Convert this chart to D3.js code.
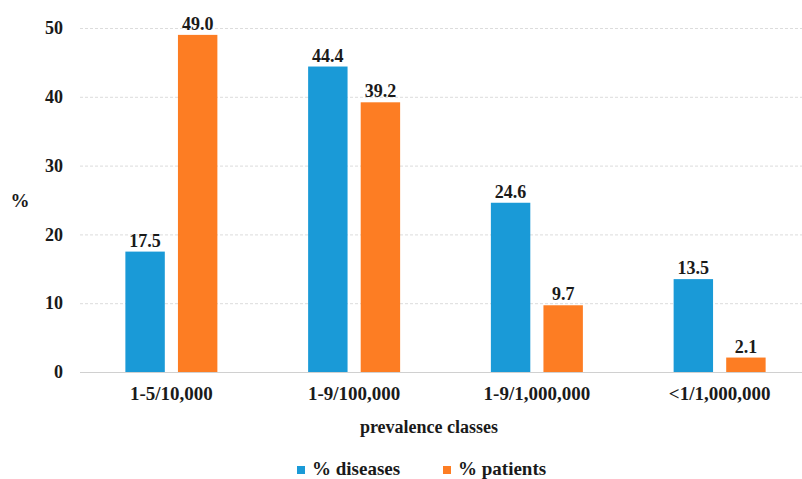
<html>
<head>
  <title>Prevalence classes</title>
  <meta charset="utf-8" />
  <style type="text/css">
    body { margin: 0; background: white; }
    svg { display: block; }
    text { font-family: "Liberation Serif", "Times New Roman", serif; font-weight: bold; fill: #1a1a1a; }
  </style>
  <script src="https://d3js.org/d3.v7.min.js" type="text/javascript"></script>
</head>

<body>
  <svg id="chart" width="802" height="479"></svg>

<script>
  var categories = ["1-5/10,000", "1-9/100,000", "1-9/1,000,000", "<1/1,000,000"]
  var seriesNames = ["% diseases", "% patients"]
  var diseases = [17.5, 44.4, 24.6, 13.5]
  var patients = [49.0, 39.2, 9.7, 2.1]
  var yTicks = [0, 10, 20, 30, 40, 50]
  var colors = ["#1a9ad7", "#fd7d23"]

  var svg = d3.select("#chart")

  var x = d3.scaleBand()
    .domain(categories)
    .range([80, 811])

  var inner = d3.scaleBand()
    .domain(seriesNames)
    .range([x.bandwidth() / 2 - 46, x.bandwidth() / 2 + 46])
    .paddingInner(0.25)

  var y = d3.scaleLinear()
    .domain([0, 50])
    .range([372, 28])

  // gridlines
  svg.append("g").selectAll("line")
    .data(yTicks)
    .enter()
    .append("line")
    .attr("x1", 80)
    .attr("x2", 802)
    .attr("y1", function (d) { return y(d) + 0.5 })
    .attr("y2", function (d) { return y(d) + 0.5 })
    .style("stroke", function (d) { return d == 0 ? "#d0d0d0" : "#dcdcdc" })
    .style("stroke-width", 1)
    .style("stroke-dasharray", function (d) { return d == 0 ? null : "3,2" })

  // y axis labels
  var yAxis = d3.axisLeft(y).tickValues(yTicks).tickSize(0).tickPadding(0)
  var gy = svg.append("g").attr("transform", "translate(63,0)").call(yAxis)
  gy.select(".domain").remove()
  gy.selectAll("text")
    .style("font-size", "18px")
    .style("font-family", "'Liberation Serif', serif")
    .style("fill", "#1a1a1a")

  svg.append("text")
    .attr("x", 20)
    .attr("y", 207)
    .attr("text-anchor", "middle")
    .style("font-size", "19px")
    .text("%")

  var rows = categories.map(function (c, i) {
    return { cat: c, values: [diseases[i], patients[i]] }
  })

  var groups = svg.selectAll("g.group")
    .data(rows)
    .enter()
    .append("g")
    .attr("class", "group")
    .attr("transform", function (d) { return "translate(" + x(d.cat) + ",0)" })

  groups.selectAll("rect")
    .data(function (d) { return d.values.map(function (v, j) { return { s: seriesNames[j], v: v, j: j } }) })
    .enter()
    .append("rect")
    .attr("x", function (d) { return inner(d.s) })
    .attr("y", function (d) { return y(d.v) })
    .attr("width", inner.bandwidth())
    .attr("height", function (d) { return y(0) - y(d.v) })
    .style("fill", function (d) { return colors[d.j] })

  groups.selectAll("text.val")
    .data(function (d) { return d.values.map(function (v, j) { return { s: seriesNames[j], v: v } }) })
    .enter()
    .append("text")
    .attr("class", "val")
    .attr("x", function (d) { return inner(d.s) + inner.bandwidth() / 2 })
    .attr("y", function (d) { return y(d.v) - 5 })
    .attr("text-anchor", "middle")
    .style("font-size", "18px")
    .text(function (d) { return d.v.toFixed(1) })

  // category labels
  groups.append("text")
    .attr("x", x.bandwidth() / 2)
    .attr("y", 400)
    .attr("text-anchor", "middle")
    .style("font-size", "19px")
    .text(function (d) { return d.cat })

  svg.append("text")
    .attr("x", 429)
    .attr("y", 433)
    .attr("text-anchor", "middle")
    .style("font-size", "18px")
    .text("prevalence classes")

  // legend
  var legendX = [297, 443]
  var legend = svg.selectAll("g.legend")
    .data(seriesNames)
    .enter()
    .append("g")
    .attr("class", "legend")
    .attr("transform", function (d, i) { return "translate(" + legendX[i] + ",0)" })

  legend.append("rect")
    .attr("x", 0)
    .attr("y", 466)
    .attr("width", 8)
    .attr("height", 8)
    .style("fill", function (d, i) { return colors[i] })

  legend.append("text")
    .attr("x", 15)
    .attr("y", 475)
    .style("font-size", "19px")
    .text(function (d) { return d })
</script>
</body>
</html>
